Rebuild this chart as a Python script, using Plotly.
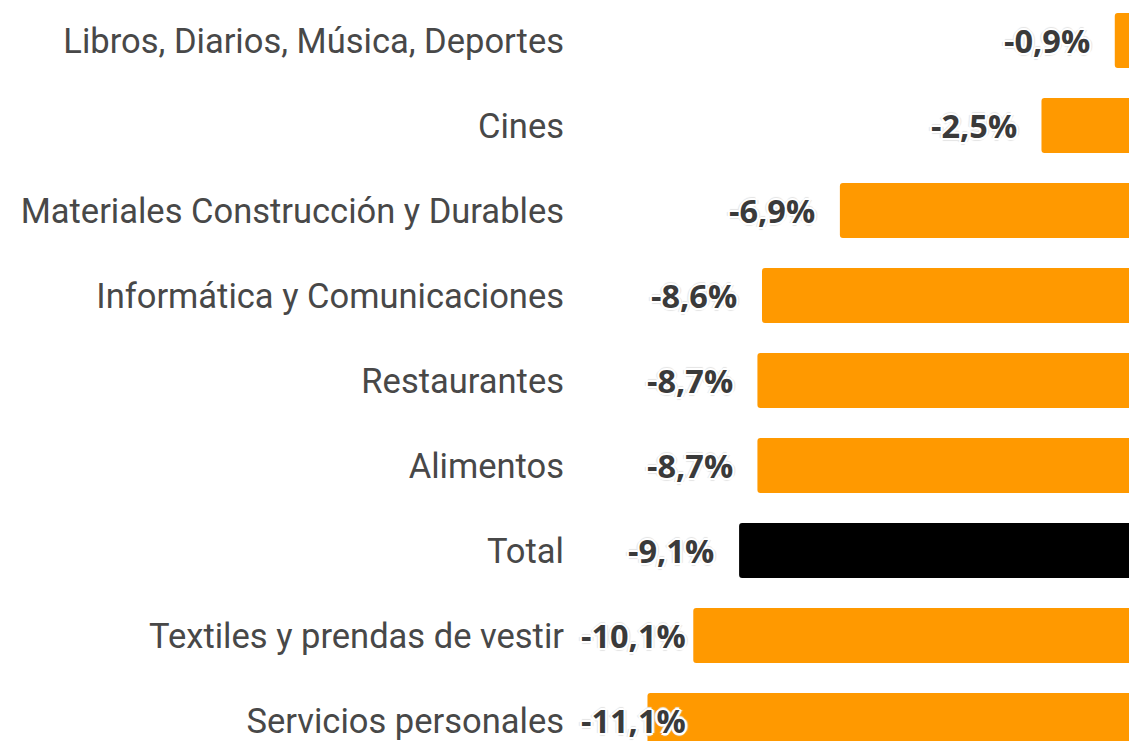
import plotly.graph_objects as go

categories = [
    "Libros, Diarios, Música, Deportes",
    "Cines",
    "Materiales Construcción y Durables",
    "Informática y Comunicaciones",
    "Restaurantes",
    "Alimentos",
    "Total",
    "Textiles y prendas de vestir",
    "Servicios personales",
]
values = [-0.9, -2.5, -6.9, -8.6, -8.7, -8.7, -9.1, -10.1, -11.1]
labels = ["-0,9%", "-2,5%", "-6,9%", "-8,6%", "-8,7%", "-8,7%", "-9,1%", "-10,1%", "-11,1%"]

ORANGE = "#ff9900"
colors = ["#000000" if c == "Total" else ORANGE for c in categories]

XMIN, XMAX = -12.90, -0.415
GAP = 0.5       # data units between bar end and label
EST_W = 2.3     # estimated label width in data units

fig = go.Figure()
fig.add_trace(go.Bar(
    y=categories, x=values, orientation="h",
    marker=dict(color=colors, line=dict(width=0)),
    hoverinfo="skip",
))

shadow = ("2px 0 0 #fff, -2px 0 0 #fff, 0 2px 0 #fff, 0 -2px 0 #fff, "
          "1.5px 1.5px 0 #fff, -1.5px -1.5px 0 #fff, 1.5px -1.5px 0 #fff, -1.5px 1.5px 0 #fff, "
          "3px 0 1px #e4e4e4, -3px 0 1px #e4e4e4, 0 3px 1px #e4e4e4, 0 -3px 1px #e4e4e4")
for c, v, t in zip(categories, values, labels):
    if v - GAP - EST_W < XMIN + 0.3:
        x, anchor = XMIN + 0.3, "left"
    else:
        x, anchor = v - GAP, "right"
    fig.add_annotation(
        x=x, y=c, text=t, showarrow=False, xanchor=anchor, yanchor="middle",
        font=dict(family="Open Sans", size=32.5, color="#3a3a3a", weight="bold", shadow=shadow),
    )

fig.update_layout(
    width=1129, height=733,
    margin=dict(l=557, r=0, t=0, b=0),
    paper_bgcolor="white", plot_bgcolor="white",
    bargap=0.353, barcornerradius=3,
    showlegend=False,
    xaxis=dict(range=[XMIN, XMAX], visible=False, fixedrange=True),
    yaxis=dict(
        range=[8.241, -0.382], type="category", automargin=False,
        showgrid=False, zeroline=False, showline=False, ticks="",
        tickfont=dict(family="Roboto", size=34.5, color="#484848"),
        fixedrange=True,
    ),
)

fig.write_html("out.html")
